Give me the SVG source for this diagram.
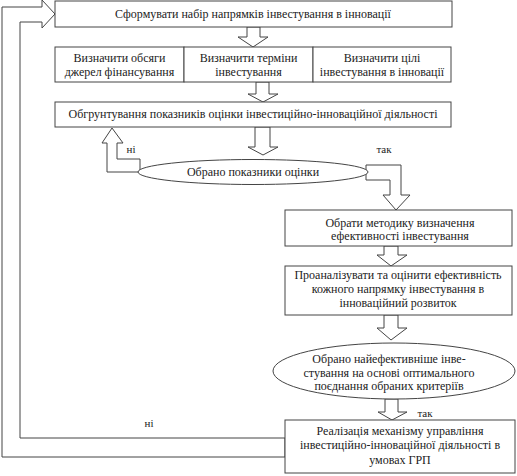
<svg xmlns="http://www.w3.org/2000/svg" width="517" height="476" viewBox="0 0 517 476">
<style>
.box{fill:#fff;stroke:#444;stroke-width:1}
.arr{fill:#fff;stroke:#444;stroke-width:1;stroke-linejoin:miter}
text{font-family:'Liberation Serif','DejaVu Serif','Times New Roman',serif;fill:#222;text-anchor:middle}
.t{font-size:12px}
.lb{font-size:11px}
</style>
<rect width="517" height="476" fill="#fff"/>
<g id="connectors">
<polygon class="arr" points="285,457 2,457 2,7 42,7 42,0 55,14 42,28 42,22 20,22 20,438 285,438"/>
<polygon class="arr" points="247,27 247,37 238,37 253,47 268,37 260,37 260,27"/>
<polygon class="arr" points="256,82 256,94 248,94 263,102 278,94 269,94 269,82"/>
<polygon class="arr" points="255,127 255,147 248,147 263,155 278,147 270,147 270,127"/>
<polygon class="arr" points="140,172 107,172 107,143 102,143 112,128 123,143 117,143 117,159 140,159"/>
<polygon class="arr" points="366,165 401,165 401,195 410,195 396,210 383,195 390,195 390,180 366,180"/>
<polygon class="arr" points="384,246 384,255 377,255 391,266 407,255 398,255 398,246"/>
<polygon class="arr" points="384,315 384,328 377,328 391,340 407,328 398,328 398,315"/>
<polygon class="arr" points="385,399 385,412 378,412 392,420 407,412 398,412 398,399"/>
<text class="lb" x="131" y="153">ні</text>
<text class="lb" x="384" y="153">так</text>
<text class="lb" x="425" y="417">так</text>
<text class="lb" x="149" y="427">ні</text>
</g>
<g id="n1">
<rect class="box" x="55" y="1" width="397" height="26"/>
<text class="t" x="253" y="18">Сформувати набір напрямків інвестування в інновації</text>
</g>
<g id="n2">
<rect class="box" x="55" y="47" width="129" height="35"/>
<text class="t" x="119.5" y="62">Визначити обсяги</text>
<text class="t" x="119.5" y="76">джерел фінансування</text>
</g>
<g id="n3">
<rect class="box" x="184" y="47" width="129" height="35"/>
<text class="t" x="248.5" y="62">Визначити терміни</text>
<text class="t" x="248.5" y="76">інвестування</text>
</g>
<g id="n4">
<rect class="box" x="313" y="47" width="138" height="35"/>
<text class="t" x="382" y="62">Визначити цілі</text>
<text class="t" x="382" y="76">інвестування в інновації</text>
</g>
<g id="n5">
<rect class="box" x="55" y="102" width="396" height="25"/>
<text class="t" x="253" y="118">Обгрунтування показників оцінки  інвестиційно-інноваційної діяльності</text>
</g>
<g id="n6">
<ellipse class="box" cx="253" cy="172" rx="115" ry="12.5"/>
<text class="t" x="253" y="176">Обрано показники оцінки</text>
</g>
<g id="n7">
<rect class="box" x="285" y="210" width="227" height="36"/>
<text class="t" x="400" y="227">Обрати методику визначення</text>
<text class="t" x="400" y="240">ефективності інвестування</text>
</g>
<g id="n8">
<rect class="box" x="285" y="266" width="227" height="49"/>
<text class="t" x="398" y="279">Проаналізувати та оцінити ефективність</text>
<text class="t" x="398" y="293">кожного напрямку інвестування в</text>
<text class="t" x="398" y="307">інноваційний розвиток</text>
</g>
<g id="n9">
<ellipse class="box" cx="394" cy="371" rx="121" ry="28"/>
<text class="t" x="389" y="363">Обрано найефективніше інве-</text>
<text class="t" x="389" y="377">стування на основі оптимального</text>
<text class="t" x="389" y="390">поєднання обраних критеріїв</text>
</g>
<g id="n10">
<rect class="box" x="285" y="420" width="230" height="53"/>
<text class="t" x="400" y="435">Реалізація механізму управління</text>
<text class="t" x="400" y="449">інвестиційно-інноваційної діяльності в</text>
<text class="t" x="400" y="464">умовах ГРП</text>
</g>
</svg>
